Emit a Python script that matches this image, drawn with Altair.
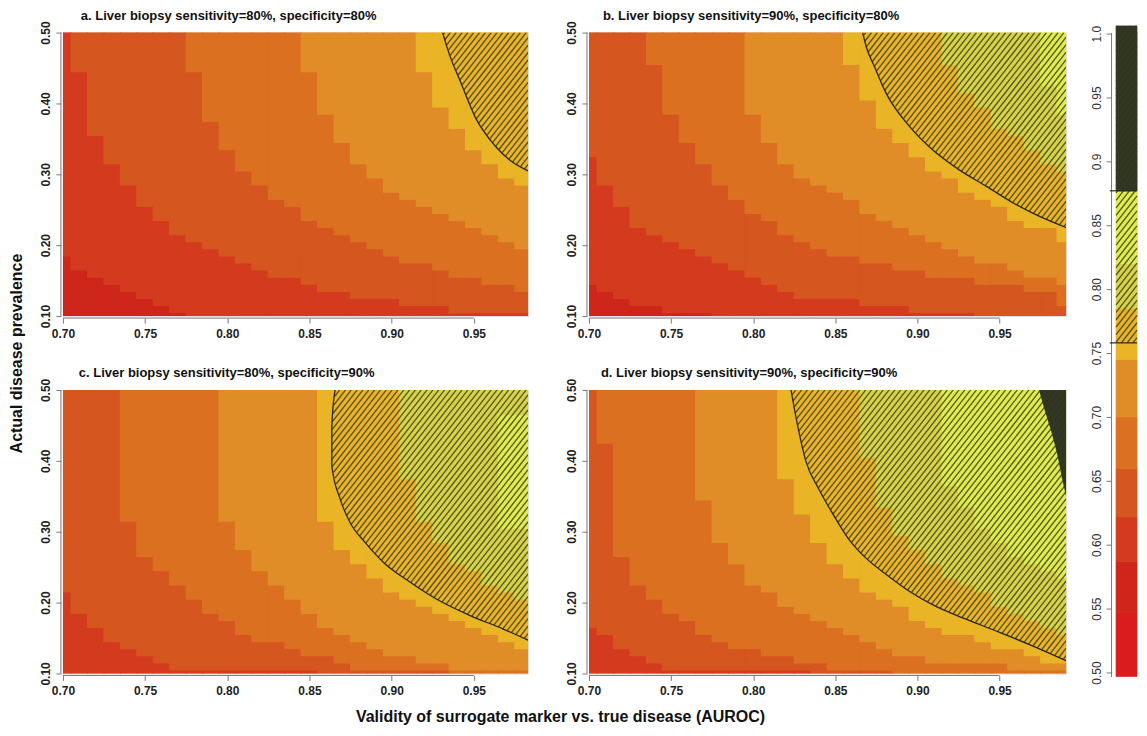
import math
import pandas as pd
import altair as alt

N = None
FONT = "Liberation Sans"

# ---------------- grid values ----------------
AUROC_AC = [0.70, 0.71, 0.72, 0.73, 0.74, 0.75, 0.76, 0.77, 0.78, 0.79, 0.80, 0.81, 0.82, 0.83, 0.84,
            0.85, 0.86, 0.87, 0.88, 0.89, 0.90, 0.91, 0.92, 0.93, 0.94, 0.95, 0.96, 0.97, 0.98]
AUROC_BD = [0.70, 0.71, 0.72, 0.73, 0.74, 0.75, 0.76, 0.77, 0.78, 0.79, 0.80, 0.81, 0.82, 0.83, 0.84,
            0.85, 0.86, 0.87, 0.88, 0.89, 0.90, 0.91, 0.92, 0.93, 0.94, 0.95, 0.96, 0.97, 0.98, 0.99]
PREVALENCE = [0.10, 0.11, 0.12, 0.13, 0.14, 0.15, 0.16, 0.17, 0.18, 0.19, 0.20, 0.21, 0.22, 0.23,
              0.24, 0.25, 0.26, 0.27, 0.28, 0.29, 0.30, 0.31, 0.32, 0.33, 0.34, 0.35, 0.36, 0.37,
              0.38, 0.39, 0.40, 0.41, 0.42, 0.43, 0.44, 0.45, 0.46, 0.47, 0.48, 0.49, 0.50]

X_TICKS = [0.70, 0.75, 0.80, 0.85, 0.90, 0.95]
Y_TICKS = [0.10, 0.20, 0.30, 0.40, 0.50]
CBAR_TICKS = [0.50, 0.55, 0.60, 0.65, 0.70, 0.75, 0.80, 0.85, 0.90, 0.95, 1.00]

# level k starts (per AUROC column) at this prevalence; None = never reached
A_L2 = [0.19, 0.17, 0.16, 0.15, 0.14, 0.13, 0.12, 0.11, 0.10, 0.10, 0.10, 0.10, 0.10, 0.10, 0.10,
        0.10, 0.10, 0.10, 0.10, 0.10, 0.10, 0.10, 0.10, 0.10, 0.10, 0.10, 0.10, 0.10, 0.10]
A_L3 = [N, 0.45, 0.36, 0.32, 0.29, 0.26, 0.24, 0.22, 0.21, 0.20, 0.19, 0.18, 0.17, 0.16, 0.16,
        0.15, 0.14, 0.14, 0.13, 0.13, 0.13, 0.12, 0.12, 0.12, 0.11, 0.11, 0.11, 0.11, 0.11]
A_L4 = [N, N, N, N, N, N, N, N, 0.45, 0.38, 0.34, 0.31, 0.29, 0.27, 0.26,
        0.24, 0.23, 0.22, 0.21, 0.20, 0.19, 0.18, 0.18, 0.17, 0.16, 0.16, 0.15, 0.15, 0.14]
A_L5 = [N, N, N, N, N, N, N, N, N, N, N, N, N, N, N,
        0.45, 0.39, 0.35, 0.32, 0.30, 0.28, 0.27, 0.26, 0.25, 0.24, 0.23, 0.22, 0.21, 0.20]
A_L6 = [N, N, N, N, N, N, N, N, N, N, N, N, N, N, N,
        N, N, N, N, N, N, N, 0.45, 0.40, 0.37, 0.34, 0.32, 0.30, 0.29]

B_L2 = [0.15, 0.14, 0.13, 0.12, 0.12, 0.11, 0.11, 0.11, 0.10, 0.10, 0.10, 0.10, 0.10, 0.10, 0.10,
        0.10, 0.10, 0.10, 0.10, 0.10, 0.10, 0.10, 0.10, 0.10, 0.10, 0.10, 0.10, 0.10, 0.10, 0.10]
B_L3 = [0.33, 0.29, 0.26, 0.23, 0.22, 0.21, 0.20, 0.19, 0.18, 0.17, 0.16, 0.15, 0.14, 0.13, 0.13,
        0.13, 0.13, 0.12, 0.12, 0.12, 0.11, 0.11, 0.11, 0.11, 0.10, 0.10, 0.10, 0.10, 0.10, 0.10]
B_L4 = [N, N, N, N, 0.46, 0.39, 0.35, 0.32, 0.29, 0.27, 0.25, 0.24, 0.22, 0.21, 0.20,
        0.19, 0.19, 0.18, 0.18, 0.17, 0.17, 0.16, 0.16, 0.16, 0.15, 0.15, 0.15, 0.14, 0.14, 0.12]
B_L5 = [N, N, N, N, N, N, N, N, N, N, 0.39, 0.35, 0.32, 0.30, 0.29,
        0.28, 0.27, 0.25, 0.24, 0.23, 0.22, 0.21, 0.20, 0.19, 0.18, 0.18, 0.17, 0.16, 0.16, 0.15]
B_L6 = [N, N, N, N, N, N, N, N, N, N, N, N, N, N, N,
        N, 0.46, 0.41, 0.37, 0.35, 0.33, 0.31, 0.30, 0.28, 0.27, 0.26, 0.24, 0.23, 0.23, 0.21]
B_L7 = [N, N, N, N, N, N, N, N, N, N, N, N, N, N, N,
        N, N, N, N, N, N, N, 0.46, 0.42, 0.40, 0.37, 0.36, 0.34, 0.32, 0.31]
B_L8 = [N, N, N, N, N, N, N, N, N, N, N, N, N, N, N,
        N, N, N, N, N, N, N, N, N, N, N, N, N, 0.43, 0.39]

C_L2 = [0.10, 0.10, 0.10, 0.10, 0.10, 0.10, 0.10, 0.10, 0.10, 0.10, 0.10, 0.10, 0.10, 0.10, 0.10,
        0.10, 0.10, 0.10, 0.10, 0.10, 0.10, 0.10, 0.10, 0.10, 0.10, 0.10, 0.10, 0.10, 0.10]
C_L3 = [0.22, 0.19, 0.17, 0.15, 0.14, 0.13, 0.12, 0.11, 0.11, 0.11, 0.11, 0.11, 0.11, 0.11, 0.11,
        0.11, 0.10, 0.10, 0.10, 0.10, 0.10, 0.10, 0.10, 0.10, 0.10, 0.10, 0.10, 0.10, 0.10]
C_L4 = [N, N, N, N, 0.32, 0.27, 0.25, 0.23, 0.21, 0.19, 0.18, 0.16, 0.15, 0.15, 0.14,
        0.13, 0.13, 0.12, 0.11, 0.11, 0.11, 0.11, 0.11, 0.11, 0.10, 0.10, 0.10, 0.10, 0.10]
C_L5 = [N, N, N, N, N, N, N, N, N, N, 0.32, 0.28, 0.25, 0.23, 0.21,
        0.19, 0.17, 0.16, 0.15, 0.14, 0.13, 0.13, 0.12, 0.12, 0.11, 0.11, 0.11, 0.11, 0.11]
C_L6 = [N, N, N, N, N, N, N, N, N, N, N, N, N, N, N,
        N, 0.32, 0.28, 0.26, 0.24, 0.22, 0.21, 0.20, 0.19, 0.18, 0.17, 0.16, 0.15, 0.14]
C_L7 = [N, N, N, N, N, N, N, N, N, N, N, N, N, N, N,
        N, N, N, N, N, N, 0.38, 0.32, 0.29, 0.26, 0.25, 0.23, 0.22, 0.21]
C_L8 = [N, N, N, N, N, N, N, N, N, N, N, N, N, N, N,
        N, N, N, N, N, N, N, N, N, N, N, N, 0.31, 0.31]
C_L8_TOP = [N, N, N, N, N, N, N, N, N, N, N, N, N, N, N,
            N, N, N, N, N, N, N, N, N, N, N, N, 0.46, 0.46]

D_L2 = [0.10, 0.10, 0.10, 0.10, 0.10, 0.10, 0.10, 0.10, 0.10, 0.10, 0.10, 0.10, 0.10, 0.10, 0.10,
        0.10, 0.10, 0.10, 0.10, 0.10, 0.10, 0.10, 0.10, 0.10, 0.10, 0.10, 0.10, 0.10, 0.10, 0.10]
D_L3 = [0.17, 0.16, 0.14, 0.13, 0.12, 0.11, 0.11, 0.11, 0.11, 0.11, 0.11, 0.11, 0.11, 0.11, 0.10,
        0.10, 0.10, 0.10, 0.10, 0.10, 0.10, 0.10, 0.10, 0.10, 0.10, 0.10, 0.10, 0.10, 0.10, 0.10]
D_L4 = [N, 0.43, 0.27, 0.23, 0.21, 0.19, 0.18, 0.16, 0.15, 0.14, 0.14, 0.13, 0.13, 0.12, 0.12,
        0.11, 0.11, 0.11, 0.11, 0.10, 0.10, 0.10, 0.10, 0.10, 0.10, 0.10, 0.10, 0.10, 0.10, 0.10]
D_L5 = [N, N, N, N, N, N, N, 0.35, 0.29, 0.26, 0.23, 0.22, 0.20, 0.19, 0.18,
        0.17, 0.16, 0.15, 0.14, 0.13, 0.13, 0.12, 0.12, 0.12, 0.12, 0.12, 0.11, 0.11, 0.11, 0.11]
D_L6 = [N, N, N, N, N, N, N, N, N, N, N, N, 0.38, 0.33, 0.29,
        0.26, 0.24, 0.22, 0.21, 0.20, 0.18, 0.17, 0.16, 0.16, 0.15, 0.14, 0.14, 0.13, 0.12, 0.12]
D_L7 = [N, N, N, N, N, N, N, N, N, N, N, N, N, N, N,
        N, N, 0.41, 0.34, 0.30, 0.28, 0.26, 0.24, 0.23, 0.22, 0.20, 0.19, 0.18, 0.17, 0.16]
D_L8 = [N, N, N, N, N, N, N, N, N, N, N, N, N, N, N,
        N, N, N, N, N, N, N, 0.37, 0.34, 0.31, 0.29, 0.27, 0.26, 0.25, 0.24]

# hatched-region boundary (observed AUROC contour), from top edge to right edge
A_CONT_X = [0.931, 0.935, 0.942, 0.951, 0.963, 0.973, 0.983]
A_CONT_Y = [0.500, 0.470, 0.430, 0.380, 0.340, 0.318, 0.305]
B_CONT_X = [0.8666, 0.8688, 0.8738, 0.8808, 0.895, 0.909, 0.925, 0.942, 0.958, 0.974, 0.9905]
B_CONT_Y = [0.500, 0.480, 0.452, 0.415, 0.368, 0.335, 0.307, 0.283, 0.260, 0.241, 0.225]
C_CONT_X = [0.8656, 0.8636, 0.8636, 0.8687, 0.8747, 0.8838, 0.8949, 0.9111, 0.9272, 0.9474, 0.9676, 0.983]
C_CONT_Y = [0.500, 0.449, 0.393, 0.346, 0.313, 0.285, 0.257, 0.229, 0.205, 0.182, 0.163, 0.147]
D_CONT_X = [0.823, 0.827, 0.832, 0.840, 0.848, 0.858, 0.869, 0.882, 0.895, 0.910, 0.928, 0.950, 0.970, 0.9905]
D_CONT_Y = [0.500, 0.450, 0.400, 0.360, 0.327, 0.290, 0.262, 0.238, 0.216, 0.196, 0.178, 0.158, 0.139, 0.118]
# dark region (>= 0.88) in panel d
D_DARK_X = [0.974, 0.977, 0.981, 0.985, 0.988, 0.9905]
D_DARK_Y = [0.500, 0.475, 0.445, 0.410, 0.375, 0.350]

TITLES = ["a. Liver biopsy sensitivity=80%, specificity=80%",
          "b. Liver biopsy sensitivity=90%, specificity=80%",
          "c. Liver biopsy sensitivity=80%, specificity=90%",
          "d. Liver biopsy sensitivity=90%, specificity=90%"]

LEVELS = [1, 2, 3, 4, 5, 6, 7, 8]
LEVEL_COLORS = ["#cf261b", "#d43b1e", "#d6561f", "#db7021", "#e08d28", "#e9b425", "#d6d445", "#dfec4a"]
DARK = "#2f3620"

CBAR_EDGES = [0.497, 0.547, 0.587, 0.622, 0.660, 0.700, 0.745, 0.785, 0.820, 0.877, 1.006]
CBAR_COLORS = ["#d81d1c", "#cf261b", "#d43b1e", "#d6561f", "#db7021", "#e08d28", "#e9b425",
               "#d6d445", "#dfec4a", DARK]
HATCH_FROM = 0.758
DARK_FROM = 0.877

# ---------------- styling ----------------
PH = 284
W_AC = 466
W_BD = 478
XMAX_AC = 0.983
XMAX_BD = 0.9905
HATCH_COLOR = "#383826"
HATCH_W = 1.3
HATCH_OPACITY = 0.85
HATCH_ANGLE = 52.0
HATCH_PERIOD = 4.6


def build_cells(xs, thr, top, xmax):
    rows = []
    ny = len(PREVALENCE)
    for i, xc in enumerate(xs):
        lv = []
        for y in PREVALENCE:
            level = 1
            for k in sorted(thr):
                t = thr[k][i]
                if t is None:
                    continue
                h = top[k][i] if k in top else None
                if y >= t - 1e-9 and (h is None or y <= h + 1e-9):
                    level = k
            lv.append(level)
        s = 0
        for j in range(1, ny + 1):
            if j == ny or lv[j] != lv[s]:
                rows.append(dict(x0=max(xc - 0.005, 0.70), x1=min(xc + 0.005, xmax),
                                 y0=max(PREVALENCE[s] - 0.005, 0.10),
                                 y1=min(PREVALENCE[j - 1] + 0.005, 0.50), level=lv[s]))
                s = j
    return pd.DataFrame(rows)


def hatch_segments(px_, py_, xdom, ydom, W, H):
    sx = W / (xdom[1] - xdom[0])
    sy = H / (ydom[1] - ydom[0])
    P = [((x - xdom[0]) * sx, (ydom[1] - y) * sy) for x, y in zip(px_, py_)]
    a = math.radians(HATCH_ANGLE)
    nx, ny = math.sin(a), math.cos(a)
    dx, dy = math.cos(a), -math.sin(a)
    s = [p[0] * nx + p[1] * ny for p in P]
    kmin = math.floor(min(s) / HATCH_PERIOD) - 1
    kmax = math.ceil(max(s) / HATCH_PERIOD) + 1
    segs = []
    n = len(P)
    for k in range(kmin, kmax + 1):
        c = (k + 0.5) * HATCH_PERIOD
        pts = []
        for i in range(n):
            j = (i + 1) % n
            si, sj = s[i] - c, s[j] - c
            if (si < 0) != (sj < 0):
                t = si / (si - sj)
                qx = P[i][0] + t * (P[j][0] - P[i][0])
                qy = P[i][1] + t * (P[j][1] - P[i][1])
                pts.append((qx * dx + qy * dy, qx, qy))
        pts.sort()
        for m in range(0, len(pts) - 1, 2):
            _, x1, y1 = pts[m]
            _, x2, y2 = pts[m + 1]
            segs.append(dict(hx1=xdom[0] + x1 / sx, hy1=ydom[1] - y1 / sy,
                             hx2=xdom[0] + x2 / sx, hy2=ydom[1] - y2 / sy))
    return pd.DataFrame(segs)


def tick_axis(values, orient, title=None, extra=None):
    kw = dict(values=values, format=".2f", labelFont=FONT, labelFontSize=12, labelFontWeight="bold",
              labelColor="#222222", tickColor="#777777", tickSize=5, tickWidth=1, domain=False,
              grid=False, offset=2, title=title, labelPadding=3)
    if orient == "left":
        kw.update(labelAngle=270, labelAlign="center", labelBaseline="bottom")
    else:
        kw.update(labelAngle=0, labelAlign="center", labelBaseline="top", labelPadding=5)
    if extra:
        kw.update(extra)
    return alt.Axis(**kw)


def panel(idx, xs, thr, top, cont_x, cont_y, xmax, width, dx, ytitle=None, xtitle=None, dark=None):
    xdom = [0.70, xmax]
    ydom = [0.10, 0.50]
    xs_ = alt.Scale(domain=xdom, nice=False, zero=False)
    ys_ = alt.Scale(domain=ydom, nice=False, zero=False)
    xextra = None
    yextra = None
    if xtitle:
        xextra = dict(titleX=498, titleY=41, titleAlign="center", titleBaseline="middle",
                      titleFont=FONT, titleFontSize=16, titleFontWeight="bold", titleColor="#111111")
    if ytitle:
        yextra = dict(titleX=-44, titleY=321, titleAngle=270, titleAlign="center",
                      titleBaseline="middle", titleFont=FONT, titleFontSize=16,
                      titleFontWeight="bold", titleColor="#111111")
    xa = tick_axis(X_TICKS, "bottom", xtitle, xextra)
    ya = tick_axis(Y_TICKS, "left", ytitle, yextra)

    def X(f):
        return alt.X(f, type="quantitative", scale=xs_, axis=xa)

    def Y(f):
        return alt.Y(f, type="quantitative", scale=ys_, axis=ya)

    cells = build_cells(xs, thr, top, xmax)
    cscale = alt.Scale(domain=LEVELS, range=LEVEL_COLORS)
    layers = [alt.Chart(cells).mark_rect(strokeWidth=1.2, clip=True).encode(
        x=X("x0"), x2="x1", y=Y("y0"), y2="y1",
        color=alt.Color("level:O", scale=cscale, legend=None),
        stroke=alt.Stroke("level:O", scale=cscale, legend=None))]

    if dark is not None:
        ddf = pd.DataFrame(dict(dxv=dark[0], dyv=dark[1], dxr=[xmax] * len(dark[0])))
        layers.append(alt.Chart(ddf).mark_area(orient="horizontal", color=DARK, clip=True,
                                               interpolate="monotone").encode(
            y=Y("dyv"), x=X("dxv"), x2="dxr"))

    poly_x = list(cont_x) + [xmax]
    poly_y = list(cont_y) + [0.50]
    hdf = hatch_segments(poly_x, poly_y, xdom, ydom, width, PH)
    layers.append(alt.Chart(hdf).mark_rule(color=HATCH_COLOR, strokeWidth=HATCH_W, opacity=HATCH_OPACITY,
                                           clip=True).encode(x=X("hx1"), y=Y("hy1"), x2="hx2", y2="hy2"))

    cdf = pd.DataFrame(dict(cx=cont_x, cy=cont_y, o=list(range(len(cont_x)))))
    layers.append(alt.Chart(cdf).mark_line(color="#262626", strokeWidth=1.3, clip=True,
                                           interpolate="monotone").encode(
        x=X("cx"), y=Y("cy"), order="o:Q"))

    xl = pd.DataFrame(dict(a=[X_TICKS[0]], b=[X_TICKS[-1]], y=[0.10]))
    layers.append(alt.Chart(xl).mark_rule(color="#777777", strokeWidth=1, yOffset=2).encode(
        x=X("a"), x2="b", y=Y("y")))
    yl = pd.DataFrame(dict(x=[0.70], a=[Y_TICKS[0]], b=[Y_TICKS[-1]]))
    layers.append(alt.Chart(yl).mark_rule(color="#777777", strokeWidth=1, xOffset=-2).encode(
        x=X("x"), y=Y("a"), y2="b"))

    return alt.layer(*layers).properties(
        width=width, height=PH,
        title=alt.TitleParams(TITLES[idx], anchor="start", frame="group", dx=dx, offset=-2,
                              font=FONT, fontSize=13, fontWeight="bold", color="#111111"))


pa = panel(0, AUROC_AC, {2: A_L2, 3: A_L3, 4: A_L4, 5: A_L5, 6: A_L6}, {},
           A_CONT_X, A_CONT_Y, XMAX_AC, W_AC, 18, ytitle="Actual disease prevalence")
pb = panel(1, AUROC_BD, {2: B_L2, 3: B_L3, 4: B_L4, 5: B_L5, 6: B_L6, 7: B_L7, 8: B_L8}, {},
           B_CONT_X, B_CONT_Y, XMAX_BD, W_BD, 14)
pc = panel(2, AUROC_AC, {2: C_L2, 3: C_L3, 4: C_L4, 5: C_L5, 6: C_L6, 7: C_L7, 8: C_L8}, {8: C_L8_TOP},
           C_CONT_X, C_CONT_Y, XMAX_AC, W_AC, 16,
           xtitle="Validity of surrogate marker vs. true disease (AUROC)")
pd_ = panel(3, AUROC_BD, {2: D_L2, 3: D_L3, 4: D_L4, 5: D_L5, 6: D_L6, 7: D_L7, 8: D_L8}, {},
            D_CONT_X, D_CONT_Y, XMAX_BD, W_BD, 12, dark=(D_DARK_X, D_DARK_Y))

# ---------------- colour bar (overflows its grid cell) ----------------
CB_CELL_W = 10
CB_SHIFT = 11         # bar starts 11px left of its cell origin
CB_W = CB_CELL_W + CB_SHIFT
CB_DOM = [0.497, 1.00078]
CB_H = 645
cbx = alt.Scale(domain=[0, 1], range=[-CB_SHIFT, CB_CELL_W], nice=False, zero=False)
cby = alt.Scale(domain=CB_DOM, range=[CB_H, 0], nice=False, zero=False)
cb_axis = alt.Axis(values=CBAR_TICKS, orient="left", labelFont=FONT, labelFontSize=12,
                   labelFontWeight="normal", labelColor="#333333", tickColor="#777777", tickSize=5,
                   domain=True, domainColor="#777777", grid=False, offset=CB_SHIFT + 5, title=None,
                   labelAngle=270, labelAlign="center", labelBaseline="bottom", labelPadding=3,
                   labelExpr="datum.value == 1 ? '1.0' : (abs(datum.value - 0.9) < 1e-6 ? '0.9' : format(datum.value, '.2f'))")


def CX(f):
    return alt.X(f, type="quantitative", scale=cbx, axis=None)


def CY(f):
    return alt.Y(f, type="quantitative", scale=cby, axis=cb_axis)


cbdf = pd.DataFrame(dict(x0=[0] * len(CBAR_COLORS), x1=[1] * len(CBAR_COLORS),
                         y0=CBAR_EDGES[:-1], y1=CBAR_EDGES[1:], col=CBAR_COLORS))
cb_layers = [alt.Chart(cbdf).mark_rect(strokeWidth=0.7).encode(
    x=CX("x0"), x2="x1", y=CY("y0"), y2="y1",
    color=alt.Color("col:N", scale=None), stroke=alt.Stroke("col:N", scale=None))]
cb_hdf = hatch_segments([0, 1, 1, 0], [HATCH_FROM, HATCH_FROM, CBAR_EDGES[-1], CBAR_EDGES[-1]],
                        [0, 1], CB_DOM, CB_W, CB_H)
cb_layers.append(alt.Chart(cb_hdf).mark_rule(color=HATCH_COLOR, strokeWidth=HATCH_W,
                                             opacity=HATCH_OPACITY).encode(
    x=CX("hx1"), y=CY("hy1"), x2="hx2", y2="hy2"))
ldf = pd.DataFrame(dict(a=[-0.3, -0.3], b=[1.0, 1.0], y=[HATCH_FROM, DARK_FROM]))
cb_layers.append(alt.Chart(ldf).mark_rule(color="#262626", strokeWidth=1.2).encode(
    x=CX("a"), x2="b", y=CY("y")))
cbar = alt.layer(*cb_layers).properties(width=CB_CELL_W, height=PH)

chart = alt.concat(pa, pb, cbar, pc, pd_, columns=3, spacing={"row": 74, "column": 61},
                   bounds="flush").configure_view(stroke=None).configure(
    font=FONT).properties(padding=0, background="white")

chart.save("out.html", embed_options={"renderer": "svg", "actions": False})
